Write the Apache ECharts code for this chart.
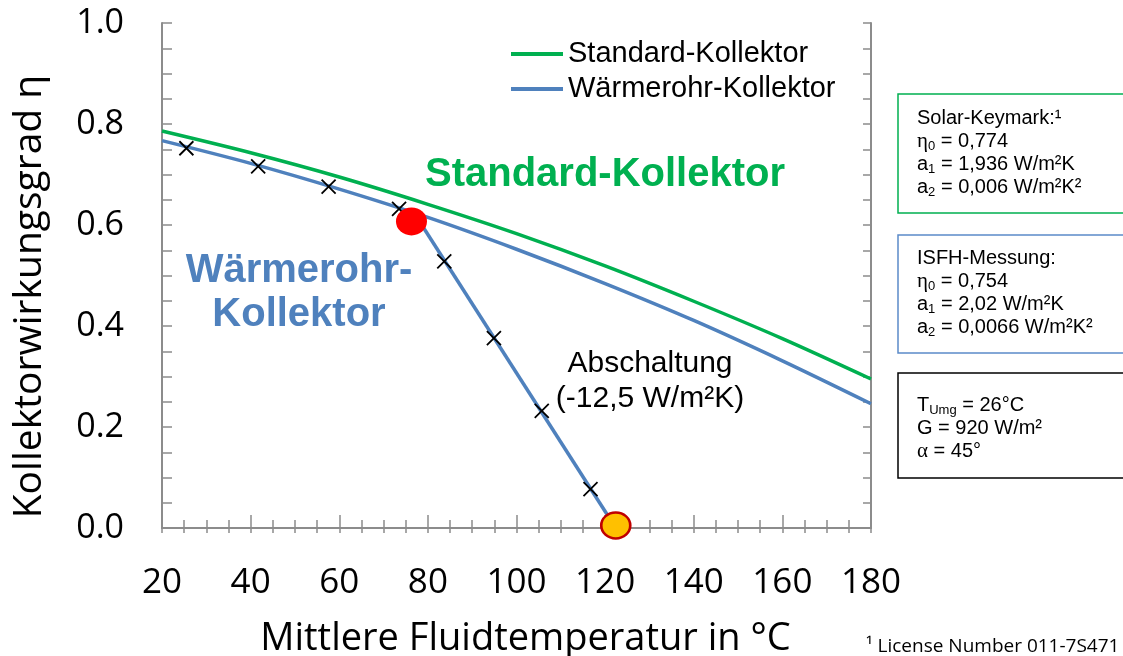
<!DOCTYPE html>
<html>
<head>
<meta charset="utf-8">
<script src="https://cdn.jsdelivr.net/npm/echarts@6/dist/echarts.min.js"></script>
<style>
html, body { margin: 0; padding: 0; background: #fff; }
#chart { width: 1123px; height: 656px; }
</style>
</head>
<body>
<div id="chart"></div>
<script>
var temps = [20, 40, 60, 80, 100, 120, 140, 160, 180];
var standardEta = [0.786, 0.743, 0.695, 0.641, 0.583, 0.519, 0.449, 0.375, 0.295];
var heatpipeEta = [0.767, 0.722, 0.671, 0.615, 0.552, 0.484, 0.411, 0.331, 0.246];

// Abschaltung (steiler Ast)
var cutoffTemps = [77.9, 122.4];
var cutoffEta = [0.610, 0.0];

// Messpunkte (x)
var measTemps = [25.5, 41.7, 57.6, 73.5, 83.7, 94.9, 105.7, 116.7];
var measEta = [0.752, 0.716, 0.676, 0.632, 0.528, 0.376, 0.232, 0.077];

// Abschaltpunkt und Stagnation
var switchOff = [76.3, 0.607];
var stagnation = [122.4, 0.005];

var seriesNames = ['Standard-Kollektor', 'Wärmerohr-Kollektor'];

function pairs(xs, ys) {
    return xs.map(function(x, i) { return [x, ys[i]]; });
}

var axisGrey = '#8c8c8c';
var green = '#00B050';
var blue = '#4F81BD';

var boxRich = {
    e: { fontFamily: 'Liberation Serif', fontSize: 21, lineHeight: 23, fill: '#000' },
    s: { fontSize: 13, lineHeight: 11, verticalAlign: 'bottom', fill: '#000' }
};

var chart = echarts.init(document.getElementById('chart'));

var option = {
    animation: false,
    grid: { left: 162, top: 23, right: 252, bottom: 128, outerBoundsMode: 'none' },
    legend: {
        orient: 'vertical',
        left: 506,
        top: 34,
        itemWidth: 52,
        itemHeight: 4,
        itemGap: 5,
        icon: 'rect',
        data: seriesNames,
        textStyle: { fontFamily: 'Liberation Sans', fontSize: 29, color: '#000', lineHeight: 30 }
    },
    xAxis: [
        {
            type: 'value',
            min: 20,
            max: 180,
            interval: 20,
            name: 'Mittlere Fluidtemperatur in °C',
            nameLocation: 'middle',
            nameGap: 92,
            nameTextStyle: { fontFamily: 'Open Sans', fontSize: 38, color: '#000', padding: [0, 0, 0, 18] },
            axisLine: { lineStyle: { color: axisGrey, width: 2 } },
            axisTick: { inside: true, length: 13, lineStyle: { color: axisGrey, width: 1.5 } },
            minorTick: { show: true, splitNumber: 4, length: 8, lineStyle: { color: axisGrey, width: 1.5 } },
            axisLabel: { margin: 38, fontFamily: 'Open Sans', fontSize: 35, color: '#000' },
            splitLine: { show: false }
        },
        {
            type: 'value',
            position: 'top',
            min: 20,
            max: 180,
            interval: 5,
            axisLine: { lineStyle: { color: axisGrey, width: 2 } },
            axisTick: { inside: true, length: 5, lineStyle: { color: axisGrey, width: 1.5 } },
            axisLabel: { show: false },
            splitLine: { show: false }
        }
    ],
    yAxis: [
        {
            type: 'value',
            min: 0,
            max: 1,
            interval: 0.2,
            name: 'Kollektorwirkungsgrad η',
            nameLocation: 'middle',
            nameGap: 113,
            nameTextStyle: { fontFamily: 'Open Sans', fontSize: 39, color: '#000', padding: [0, 42, 0, 0] },
            axisLine: { lineStyle: { color: axisGrey, width: 2 } },
            axisTick: { inside: true, length: 10, lineStyle: { color: axisGrey, width: 1.5 } },
            minorTick: { show: true, splitNumber: 4, length: 10, lineStyle: { color: axisGrey, width: 1.5 } },
            axisLabel: {
                margin: 38,
                fontFamily: 'Open Sans',
                fontSize: 34,
                color: '#000',
                formatter: function(v) { return v.toFixed(1); }
            },
            splitLine: { show: false }
        },
        {
            type: 'value',
            position: 'right',
            min: 0,
            max: 1,
            interval: 0.05,
            axisLine: { lineStyle: { color: axisGrey, width: 2 } },
            axisTick: { inside: true, length: 8, lineStyle: { color: axisGrey, width: 1.5 } },
            axisLabel: { show: false },
            splitLine: { show: false }
        }
    ],
    series: [
        {
            name: seriesNames[0],
            type: 'line',
            data: pairs(temps, standardEta),
            smooth: 0.3,
            showSymbol: false,
            lineStyle: { color: green, width: 3.5 },
            itemStyle: { color: green },
            z: 2
        },
        {
            name: seriesNames[1],
            type: 'line',
            data: pairs(temps, heatpipeEta),
            smooth: 0.3,
            showSymbol: false,
            lineStyle: { color: blue, width: 3.5 },
            itemStyle: { color: blue },
            z: 3
        },
        {
            name: 'Abschaltung',
            type: 'line',
            data: pairs(cutoffTemps, cutoffEta),
            showSymbol: false,
            lineStyle: { color: blue, width: 3.5 },
            itemStyle: { color: blue },
            z: 3
        },
        {
            name: 'Messung',
            type: 'scatter',
            data: pairs(measTemps, measEta),
            symbol: 'path://M0,0L10,10M10,0L0,10',
            symbolSize: 14,
            itemStyle: { color: 'rgba(0,0,0,0)', borderColor: '#000', borderWidth: 1.8, opacity: 1 },
            z: 6
        },
        {
            name: 'Abschaltpunkt',
            type: 'scatter',
            data: [switchOff],
            symbol: 'circle',
            symbolSize: [31, 28],
            itemStyle: { color: '#FF0000', opacity: 1 },
            z: 7
        },
        {
            name: 'Stagnation',
            type: 'scatter',
            data: [stagnation],
            symbol: 'circle',
            symbolSize: [29, 26],
            itemStyle: { color: '#FFC000', borderColor: '#C00000', borderWidth: 2.5, opacity: 1 },
            z: 7
        }
    ],
    graphic: [
        {
            type: 'text', left: 425, top: 155,
            style: { text: 'Standard-Kollektor', fontFamily: 'Liberation Sans', fontWeight: 'bold', fontSize: 40, fill: green }
        },
        {
            type: 'text', x: 299, y: 293,
            style: {
                text: 'Wärmerohr-\nKollektor', align: 'center', verticalAlign: 'middle',
                fontFamily: 'Liberation Sans', fontWeight: 'bold', fontSize: 40, lineHeight: 44, fill: blue
            }
        },
        {
            type: 'text', x: 650, y: 381,
            style: {
                text: 'Abschaltung\n(-12,5 W/m²K)', align: 'center', verticalAlign: 'middle',
                fontFamily: 'Liberation Sans', fontSize: 30, lineHeight: 35, fill: '#000'
            }
        },
        {
            type: 'rect', shape: { x: 898, y: 94, width: 240, height: 119 },
            style: { fill: '#fff', stroke: green, lineWidth: 1.5 }
        },
        {
            type: 'rect', shape: { x: 898, y: 235, width: 240, height: 118 },
            style: { fill: '#fff', stroke: '#5B8BC9', lineWidth: 1.5 }
        },
        {
            type: 'rect', shape: { x: 898, y: 373, width: 240, height: 105 },
            style: { fill: '#fff', stroke: '#000', lineWidth: 1.5 }
        },
        {
            type: 'text', x: 917, y: 107,
            style: {
                text: 'Solar-Keymark:¹\n{e|η}{s|0} = 0,774\na{s|1} = 1,936 W/m²K\na{s|2} = 0,006 W/m²K²',
                fontFamily: 'Liberation Sans', fontSize: 20, lineHeight: 23, fill: '#000',
                rich: boxRich
            }
        },
        {
            type: 'text', x: 917, y: 247,
            style: {
                text: 'ISFH-Messung:\n{e|η}{s|0} = 0,754\na{s|1} = 2,02 W/m²K\na{s|2} = 0,0066 W/m²K²',
                fontFamily: 'Liberation Sans', fontSize: 20, lineHeight: 23, fill: '#000',
                rich: boxRich
            }
        },
        {
            type: 'text', x: 917, y: 394,
            style: {
                text: 'T{s|Umg} = 26°C\nG = 920 W/m²\n{e|α} = 45°',
                fontFamily: 'Liberation Sans', fontSize: 20, lineHeight: 23, fill: '#000',
                rich: boxRich
            }
        },
        {
            type: 'text', x: 866, y: 637,
            style: { text: '¹ License Number 011-7S471', fontFamily: 'Open Sans', fontSize: 19, fill: '#000' }
        }
    ]
};

chart.setOption(option);
</script>
</body>
</html>
